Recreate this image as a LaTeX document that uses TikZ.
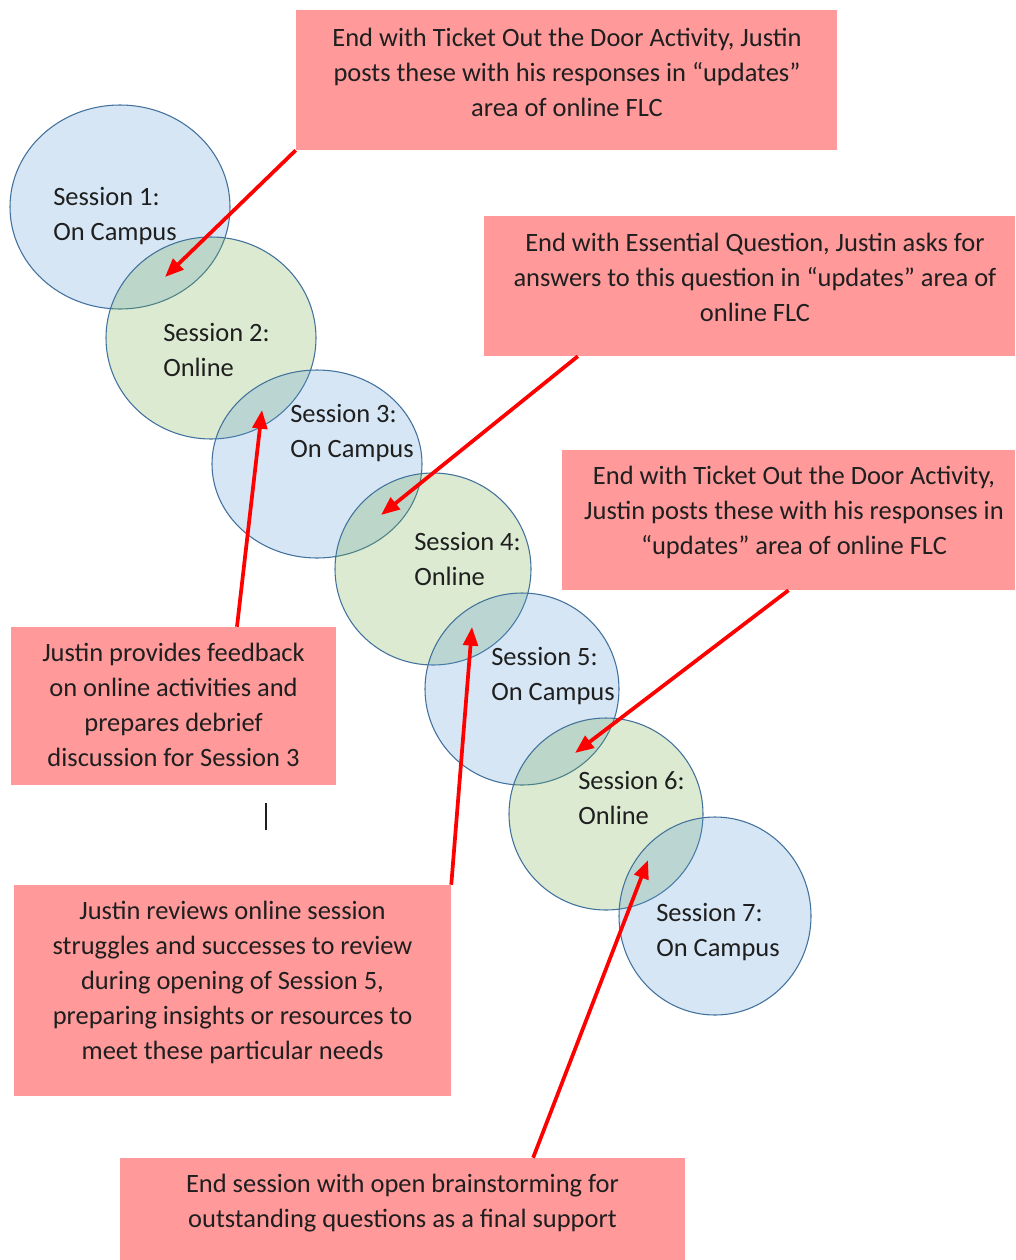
\documentclass[tikz,border=0pt]{standalone}
\usepackage{fontspec}
\setmainfont{Carlito}
\usetikzlibrary{arrows.meta,shapes.geometric,calc}
\definecolor{campusblue}{HTML}{5B9BD5}
\definecolor{onlinegreen}{HTML}{70AD47}
\definecolor{ringblue}{HTML}{41719C}
\definecolor{notepink}{HTML}{FF999A}
\definecolor{textgray}{HTML}{1F1F1F}
\begin{document}
\begin{tikzpicture}[x=0.75pt,y=-0.75pt,
  every node/.style={font=\fontsize{19.85}{26.25}\selectfont,text=textgray},
  session/.style={ellipse,draw=ringblue,line width=0.8pt,fill opacity=0.25,inner sep=0pt},
  campus/.style={session,fill=campusblue},
  online/.style={session,fill=onlinegreen},
  sesstext/.style={anchor=west,align=left,inner sep=0pt,yshift=-1.5pt},
  notebox/.style={rectangle,fill=notepink,inner sep=0pt},
  notetext/.style={align=center,inner sep=0pt},
  pointer/.style={draw=red,line width=2.8pt,-{Triangle[length=14pt,width=11pt]}}]
\useasboundingbox (0,0) rectangle (1015,1260);
\node[campus,minimum width=165pt,minimum height=153pt] (s1) at (120,207) {};
\node[online,minimum width=157.5pt,minimum height=151.5pt] (s2) at (211,338) {};
\node[campus,minimum width=157.5pt,minimum height=141pt] (s3) at (317,464) {};
\node[online,minimum width=147pt,minimum height=144pt] (s4) at (433,569) {};
\node[campus,minimum width=145.5pt,minimum height=144pt] (s5) at (522,689) {};
\node[online,minimum width=145.5pt,minimum height=144pt] (s6) at (606,814) {};
\node[campus,minimum width=144pt,minimum height=148.5pt] (s7) at (715,916) {};
\node[sesstext] (t1) at (53,214.5) {Session 1:\\On Campus};
\node[sesstext] (t2) at (163,347.5) {Session 2:\\Online};
\node[sesstext] (t3) at (290,431.5) {Session 3:\\On Campus};
\node[sesstext] (t4) at (414,556.5) {Session 4:\\Online};
\node[sesstext] (t5) at (491,674) {Session 5:\\On Campus};
\node[sesstext] (t6) at (578,795.5) {Session 6:\\Online};
\node[sesstext] (t7) at (656,930.5) {Session 7:\\On Campus};
\node[notebox,minimum width=405.75pt,minimum height=105pt] (b1) at (566.5,80) {};
\node[notetext] (n1) at (567,72) {End with Ticket Out the Door Activity, Justin\\posts these with his responses in “updates”\\area of online FLC};
\node[notebox,minimum width=398.25pt,minimum height=105pt] (b2) at (749.5,286) {};
\node[notetext] (n2) at (755,277) {End with Essential Question, Justin asks for\\answers to this question in “updates” area of\\online FLC};
\node[notebox,minimum width=339.75pt,minimum height=105pt] (b3) at (788.5,520) {};
\node[notetext] (n3) at (794,512) {End with Ticket Out the Door Activity,\\Justin posts these with his responses in\\“updates” area of online FLC};
\node[notebox,minimum width=243.75pt,minimum height=118.5pt] (b4) at (173.5,706) {};
\node[notetext] (n4) at (173.5,705) {Justin provides feedback\\on online activities and\\prepares debrief\\discussion for Session 3};
\node[notebox,minimum width=327.75pt,minimum height=158.25pt] (b5) at (232.5,990.5) {};
\node[notetext] (n5) at (232.5,982) {Justin reviews online session\\struggles and successes to review\\during opening of Session 5,\\preparing insights or resources to\\meet these particular needs};
\node[notebox,minimum width=423.75pt,minimum height=76.5pt] (b6) at (402.5,1209) {};
\node[notetext] (n6) at (402.5,1203) {End session with open brainstorming for\\outstanding questions as a final support};
\coordinate (o12) at (165,277);
\coordinate (o23) at (262,410);
\coordinate (o34) at (381,515);
\coordinate (o45) at (472,627);
\coordinate (o56) at (575,753);
\coordinate (o67) at (648,860);
\draw[pointer] (b1.south west) -- (o12);
\draw[pointer] ($(b4.north west)!0.695!(b4.north east)$) -- (o23);
\draw[pointer] ($(b2.south west)!0.177!(b2.south east)$) -- (o34);
\draw[pointer] (b5.north east) -- (o45);
\draw[pointer] (b3.south) -- (o56);
\draw[pointer] ($(b6.north west)!0.731!(b6.north east)$) -- (o67);
\draw[line width=1.1pt,textgray] (266,803) -- (266,830);
\end{tikzpicture}
\end{document}
